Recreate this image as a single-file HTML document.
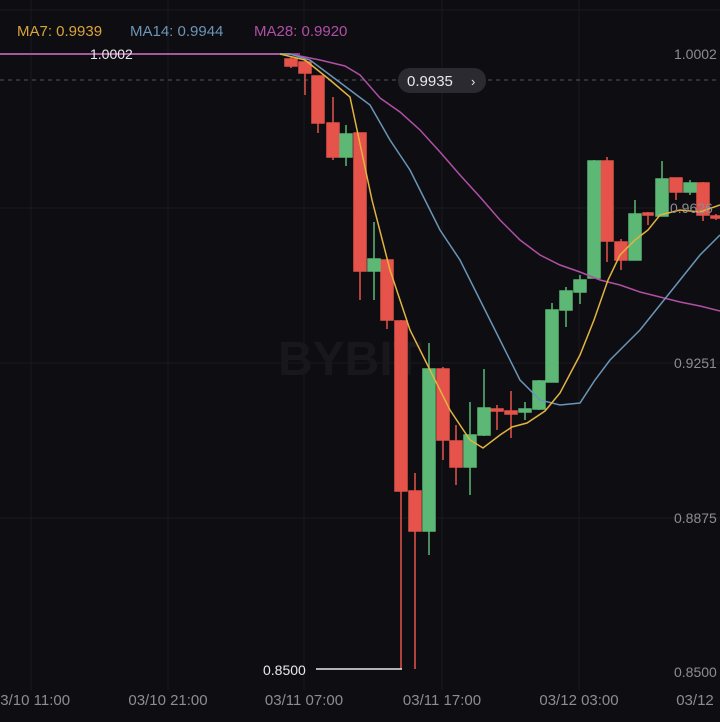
<!DOCTYPE html>
<html><head><meta charset="utf-8"><style>
html,body{margin:0;padding:0;background:#0e0e12;}
svg{display:block;font-family:"Liberation Sans",sans-serif;}
</style></head><body>
<svg width="720" height="722" viewBox="0 0 720 722" xmlns="http://www.w3.org/2000/svg">
<rect width="720" height="722" fill="#0e0e12"/>
<g stroke="#19191f" stroke-width="1">
<line x1="31" y1="0" x2="31" y2="690"/><line x1="168" y1="0" x2="168" y2="690"/>
<line x1="304" y1="0" x2="304" y2="690"/><line x1="442" y1="0" x2="442" y2="690"/>
<line x1="579" y1="0" x2="579" y2="690"/>
<line x1="0" y1="10" x2="720" y2="10"/>
<line x1="0" y1="208" x2="720" y2="208"/><line x1="0" y1="363" x2="720" y2="363"/>
<line x1="0" y1="518" x2="720" y2="518"/>
</g>
<text x="278" y="375" font-size="48" font-weight="bold" fill="#17171c">BYBIT</text>
<line x1="0" y1="80" x2="720" y2="80" stroke="#55555c" stroke-dasharray="4,4"/>
<rect x="0" y="53" width="290" height="2" fill="#7d7d82"/>
<line x1="0" y1="54" x2="300" y2="54" stroke="#b04fa6" stroke-width="1.5"/>
<text x="90" y="59" font-size="14" fill="#e8e8ea">1.0002</text>
<g stroke-width="1.5">
<g fill="#e5534b" stroke="#e5534b">
<line x1="291" y1="57" x2="291" y2="68"/><rect x="285" y="59" width="12" height="7"/>
<line x1="305" y1="60" x2="305" y2="95"/><rect x="299" y="62" width="12" height="11"/>
<line x1="318" y1="76" x2="318" y2="133"/><rect x="312" y="76" width="12" height="47"/>
<line x1="333" y1="97" x2="333" y2="160"/><rect x="327" y="123" width="12" height="34"/>
<line x1="360" y1="133" x2="360" y2="300"/><rect x="354" y="133" width="12" height="138"/>
<line x1="387" y1="259" x2="387" y2="329"/><rect x="381" y="260" width="12" height="60"/>
<line x1="401" y1="320" x2="401" y2="669"/><rect x="395" y="321" width="12" height="170"/>
<line x1="415" y1="473" x2="415" y2="669"/><rect x="409" y="491" width="12" height="40"/>
<line x1="443" y1="367" x2="443" y2="460"/><rect x="437" y="369" width="12" height="71"/>
<line x1="456" y1="425" x2="456" y2="485"/><rect x="450" y="441" width="12" height="26"/>
<line x1="497" y1="405" x2="497" y2="430"/><rect x="491" y="409" width="12" height="2"/>
<line x1="511" y1="391" x2="511" y2="438"/><rect x="505" y="411" width="12" height="3"/>
<line x1="607" y1="157" x2="607" y2="262"/><rect x="601" y="161" width="12" height="80"/>
<line x1="621" y1="239" x2="621" y2="270"/><rect x="615" y="242" width="12" height="18"/>
<line x1="648" y1="212" x2="648" y2="225"/><rect x="643" y="213" width="10" height="2"/>
<line x1="676" y1="178" x2="676" y2="200"/><rect x="670" y="178" width="12" height="14"/>
<line x1="703" y1="182" x2="703" y2="221"/><rect x="697" y="183" width="12" height="32"/>
<line x1="716" y1="214" x2="716" y2="220"/><rect x="711" y="216" width="10" height="2"/>
</g>
<g fill="#5cb874" stroke="#5cb874">
<line x1="346" y1="125" x2="346" y2="166"/><rect x="340" y="134" width="12" height="23"/>
<line x1="374" y1="222" x2="374" y2="300"/><rect x="368" y="259" width="12" height="12"/>
<line x1="429" y1="343" x2="429" y2="555"/><rect x="423" y="369" width="12" height="162"/>
<line x1="470" y1="402" x2="470" y2="495"/><rect x="464" y="435" width="12" height="32"/>
<line x1="484" y1="369" x2="484" y2="436"/><rect x="478" y="408" width="12" height="27"/>
<line x1="525" y1="402" x2="525" y2="420"/><rect x="519" y="409" width="12" height="3"/>
<line x1="539" y1="380" x2="539" y2="410"/><rect x="533" y="381" width="12" height="28"/>
<line x1="552" y1="303" x2="552" y2="382"/><rect x="546" y="310" width="12" height="72"/>
<line x1="566" y1="287" x2="566" y2="327"/><rect x="560" y="291" width="12" height="19"/>
<line x1="580" y1="275" x2="580" y2="304"/><rect x="574" y="280" width="12" height="12"/>
<line x1="594" y1="160" x2="594" y2="278"/><rect x="588" y="161" width="12" height="117"/>
<line x1="635" y1="200" x2="635" y2="260"/><rect x="629" y="214" width="12" height="46"/>
<line x1="662" y1="161" x2="662" y2="216"/><rect x="656" y="179" width="12" height="37"/>
<line x1="690" y1="180" x2="690" y2="195"/><rect x="684" y="183" width="12" height="9"/>
</g>
</g>
<polyline fill="none" stroke="#b04fa6" stroke-width="1.5" points="290,54 320,60 345,66 360,75 380,98 400,112 420,130 440,152 460,175 480,197 500,220 520,240 540,255 560,265 580,272 600,280 620,285 640,292 660,297 680,302 700,306 720,311"/>
<polyline fill="none" stroke="#6b95b8" stroke-width="1.5" points="280,54 290,54 310,60 330,75 350,90 370,105 390,140 410,170 425,200 440,230 460,260 480,300 500,340 520,380 540,400 560,405 580,403 595,380 610,360 620,350 640,330 660,305 680,280 700,255 720,235"/>
<polyline fill="none" stroke="#e3b341" stroke-width="1.5" points="280,54 305,60 330,80 350,97 372,200 390,270 410,330 430,370 450,410 470,440 483,448 500,435 512,427 527,423 545,411 560,393 580,355 594,320 608,280 620,255 635,240 648,230 660,215 680,210 700,212 720,205"/>
<text x="17" y="36" font-size="15" fill="#d9a43c">MA7: 0.9939</text>
<text x="130" y="36" font-size="15" fill="#6b95b8">MA14: 0.9944</text>
<text x="254" y="36" font-size="15" fill="#b04fa6">MA28: 0.9920</text>
<text x="674" y="59" font-size="14" fill="#8c8c92">1.0002</text>
<text x="670" y="213" font-size="14" fill="#8c8c92">0.9626</text>
<text x="674" y="368" font-size="14" fill="#8c8c92">0.9251</text>
<text x="674" y="523" font-size="14" fill="#8c8c92">0.8875</text>
<text x="674" y="677" font-size="14" fill="#8c8c92">0.8500</text>
<rect x="398" y="68" width="88" height="25" rx="12" fill="#2a2a30"/>
<text x="407" y="86" font-size="15" fill="#e8e8ea">0.9935</text>
<text x="471" y="86" font-size="13" fill="#e8e8ea">›</text>
<line x1="316" y1="669" x2="402" y2="669" stroke="#e8e8ea" stroke-width="1.5"/>
<text x="263" y="675" font-size="14" fill="#e8e8ea">0.8500</text>
<g font-size="15" fill="#8c8c92" text-anchor="middle">
<text x="31" y="705">03/10 11:00</text><text x="168" y="705">03/10 21:00</text>
<text x="304" y="705">03/11 07:00</text><text x="442" y="705">03/11 17:00</text>
<text x="579" y="705">03/12 03:00</text><text x="695" y="705">03/12</text>
</g>
</svg>
</body></html>
